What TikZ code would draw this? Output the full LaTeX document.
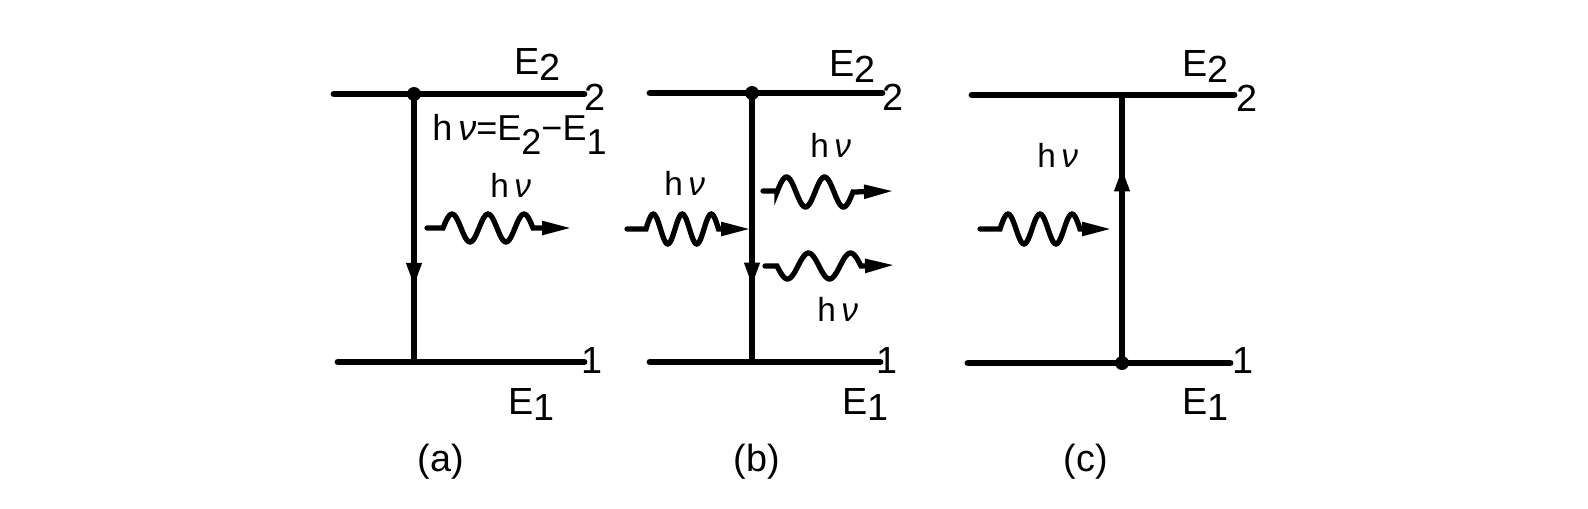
\documentclass[tikz,border=0pt]{standalone}
\usepackage{fontspec}
\setmainfont{Liberation Sans}
\usetikzlibrary{arrows.meta,decorations.markings}
\newcommand{\lsub}[1]{\raisebox{-0.35ex}{#1}}
\newcommand{\esub}[1]{\raisebox{-0.75ex}{#1}}
\newcommand{\hnu}{h\,{\itshape ν}}
\begin{document}
\begin{tikzpicture}[x=0.02cm,y=-0.02cm,
  level/.style={line width=3.9pt,line cap=round},
  trans/.style={line width=3.4pt},
  photon/.style={line width=3pt,line cap=round,-{Triangle[length=0.6cm,width=0.26cm]}},
  lbl/.style={inner sep=0pt,font=\fontsize{21.5}{25}\selectfont},
  eq/.style={inner sep=0pt,font=\fontsize{19}{23}\selectfont},
  eqbig/.style={inner sep=0pt,font=\fontsize{20.5}{24}\selectfont},
  dot/.style={circle,fill,inner sep=0pt,minimum size=0.28cm},
  markdown/.style={postaction={decorate},decoration={markings,mark=at position #1 with {\arrow{Triangle[length=0.48cm,width=0.28cm]}}}},
]
\useasboundingbox (0,0) rectangle (1588,508);

% ---------- (a) ----------
\coordinate (a2L) at (334,94); \coordinate (a2R) at (584,94);
\coordinate (a1L) at (338,362); \coordinate (a1R) at (584,362);
\node[dot] (aTop) at (414,94) {};
\coordinate (aBot) at (414,362);
\draw[level] (a2L) -- (a2R);
\draw[level] (a1L) -- (a1R);
\draw[trans,markdown=0.72] (aTop.center) -- (aBot);
\node[lbl,anchor=base west] (aE2) at (514,74) {E\lsub{2}};
\node[lbl] (aN2) at (595,97) {2};
\node[lbl] (aN1) at (592,360) {1};
\node[lbl,anchor=base west] (aE1) at (508,414) {E\lsub{1}};
\node[eqbig,anchor=base west] (aEq) at (432,140) {\hnu=E\esub{2}−E\esub{1}};
\node[eq,anchor=base west] (aHnu) at (490,197) {\hnu};
\draw[photon] (427,228) -- (443,228) -- plot[domain=443:533,samples=61,smooth] (\x,{228-14*sin(10*(\x-443))}) -- (572,228);
\node[lbl] (la) at (441,462) {(a)};

% ---------- (b) ----------
\coordinate (b2L) at (650,93); \coordinate (b2R) at (882,93);
\coordinate (b1L) at (650,362); \coordinate (b1R) at (880,362);
\node[dot] (bTop) at (752,93) {};
\coordinate (bBot) at (752,362);
\draw[level] (b2L) -- (b2R);
\draw[level] (b1L) -- (b1R);
\draw[trans,markdown=0.72] (bTop.center) -- (bBot);
\node[lbl,anchor=base west] (bE2) at (829,76) {E\lsub{2}};
\node[lbl] (bN2) at (893,97) {2};
\node[lbl] (bN1) at (887,360) {1};
\node[lbl,anchor=base west] (bE1) at (842,414) {E\lsub{1}};
\node[eq,anchor=base west] (bHin) at (664,195) {\hnu};
\node[eq,anchor=base west] (bHup) at (810,157) {\hnu};
\node[eq,anchor=base west] (bHlo) at (817,321) {\hnu};
\draw[photon] (627,229) -- (646,229) -- plot[domain=646:718.5,samples=61,smooth] (\x,{229-15*sin(12.414*(\x-646))}) -- (751,229);
\draw[photon] (763,191) -- (777,191) -- plot[domain=777:853,samples=61,smooth] (\x,{192-15*sin(9.4737*(\x-777))}) -- (894,191);
\draw[photon] (765,266) -- (777,266) -- plot[domain=777:861,samples=61,smooth] (\x,{266+13*sin(8.5714*(\x-777))}) -- (895,265);
\node[lbl] (lb) at (757,462) {(b)};

% ---------- (c) ----------
\coordinate (c2L) at (972,95); \coordinate (c2R) at (1234,95);
\coordinate (c1L) at (968,363); \coordinate (c1R) at (1230,363);
\coordinate (cTop) at (1122,95);
\node[dot] (cBot) at (1122,363) {};
\draw[level] (c2L) -- (c2R);
\draw[level] (c1L) -- (c1R);
\draw[trans,markdown=0.73] (cBot.center) -- (cTop);
\node[lbl,anchor=base west] (cE2) at (1182,76) {E\lsub{2}};
\node[lbl] (cN2) at (1247,98) {2};
\node[lbl] (cN1) at (1243,360) {1};
\node[lbl,anchor=base west] (cE1) at (1182,414) {E\lsub{1}};
\node[eq,anchor=base west] (cHnu) at (1037,167) {\hnu};
\draw[photon] (980,229) -- (1000,229) -- plot[domain=1000:1080,samples=61,smooth] (\x,{229-15*sin(11.25*(\x-1000))}) -- (1112,229);
\node[lbl] (lc) at (1086,462) {(c)};
\end{tikzpicture}
\end{document}
